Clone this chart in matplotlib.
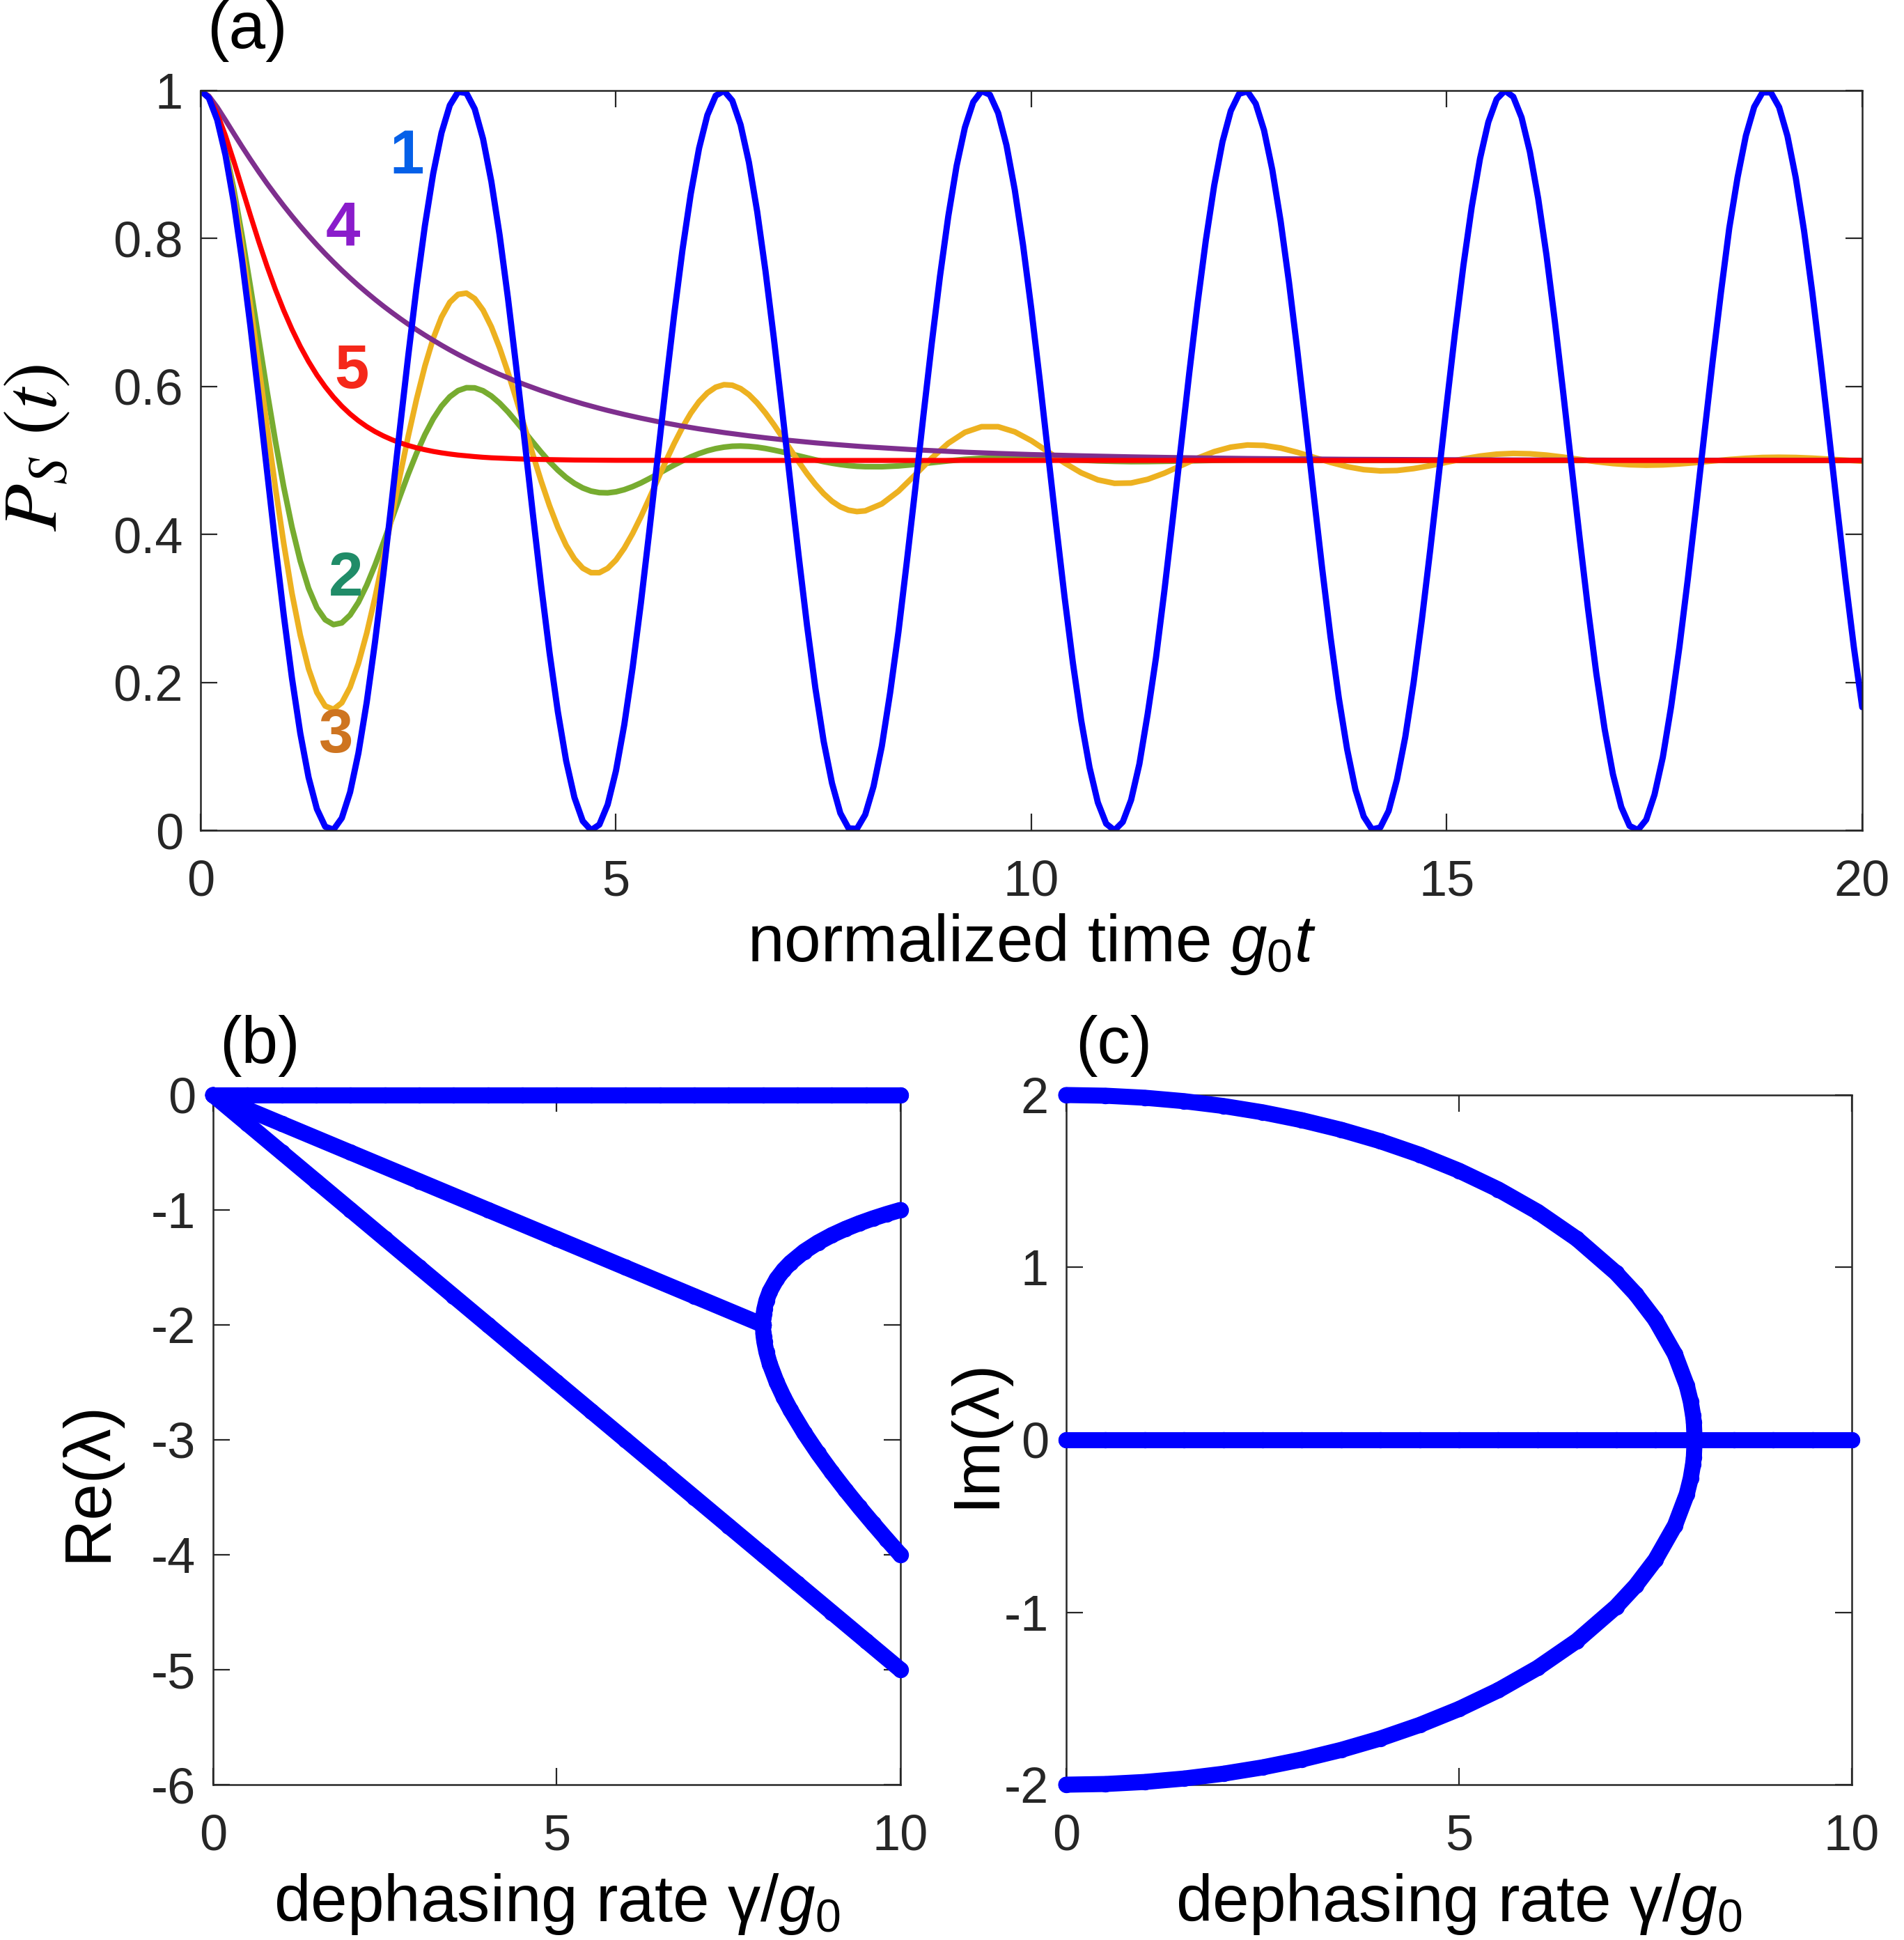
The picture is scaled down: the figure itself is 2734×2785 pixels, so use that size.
import numpy as np
import matplotlib
matplotlib.use('Agg')
import matplotlib.pyplot as plt
from matplotlib.ticker import FuncFormatter

plt.rcParams['font.family'] = ['Liberation Sans', 'DejaVu Sans']
plt.rcParams['axes.unicode_minus'] = False
plt.rcParams['mathtext.fontset'] = 'custom'
plt.rcParams['mathtext.rm'] = 'Liberation Sans'
plt.rcParams['mathtext.it'] = 'Liberation Sans:italic'
plt.rcParams['mathtext.bf'] = 'Liberation Sans:bold'

# ── (a) P_S(t) curves ──────────────────────────────────────────
t_fine = np.linspace(0, 20, 201)                      # every 0.1
t_mix = np.concatenate([np.linspace(0, 8, 81),        # every 0.1 up to 8
                        np.linspace(8.2, 20, 60)])    # then every 0.2

p_curve1 = [
    1.0000, 0.9900, 0.9605, 0.9127, 0.8484, 0.7702, 0.6812, 0.5850, 0.4854, 0.3864,
    0.2919, 0.2058, 0.1313, 0.0716, 0.0289, 0.0050, 0.0009, 0.0166, 0.0516, 0.1045,
    0.1732, 0.2549, 0.3463, 0.4439, 0.5438, 0.6418, 0.7343, 0.8173, 0.8878, 0.9428,
    0.9801, 0.9983, 0.9966, 0.9751, 0.9347, 0.8770, 0.8042, 0.7193, 0.6257, 0.5270,
    0.4273, 0.3304, 0.2404, 0.1606, 0.0941, 0.0444, 0.0126, 0.0002, 0.0077, 0.0348,
    0.0805, 0.1428, 0.2195, 0.3073, 0.4031, 0.5022, 0.6015, 0.6968, 0.7843, 0.8602,
    0.9219, 0.9668, 0.9931, 0.9997, 0.9864, 0.9537, 0.9030, 0.8361, 0.7557, 0.6654,
    0.5684, 0.4686, 0.3701, 0.2766, 0.1922, 0.1202, 0.0638, 0.0233, 0.0027, 0.0021,
    0.0212, 0.0593, 0.1138, 0.1861, 0.2682, 0.3624, 0.4597, 0.5604, 0.6576, 0.7490,
    0.8302, 0.8982, 0.9502, 0.9845, 0.9994, 0.9944, 0.9696, 0.9262, 0.8657, 0.7908,
    0.7040, 0.6093, 0.5102, 0.4107, 0.3147, 0.2261, 0.1483, 0.0850, 0.0376, 0.0090,
    0.0000, 0.0113, 0.0410, 0.0898, 0.1576, 0.2336, 0.3230, 0.4194, 0.5190, 0.6179,
    0.7121, 0.7978, 0.8715, 0.9307, 0.9725, 0.9956, 0.9989, 0.9823, 0.9464, 0.8928,
    0.8235, 0.7413, 0.6495, 0.5517, 0.4518, 0.3539, 0.2618, 0.1792, 0.1098, 0.0551,
    0.0187, 0.0013, 0.0039, 0.0263, 0.0686, 0.1260, 0.1994, 0.2847, 0.3787, 0.4770,
    0.5771, 0.6738, 0.7636, 0.8426, 0.9081, 0.9574, 0.9884, 0.9999, 0.9916, 0.9636,
    0.9171, 0.8541, 0.7773, 0.6886, 0.5928, 0.4934, 0.3942, 0.2992, 0.2117, 0.1367,
    0.0757, 0.0316, 0.0060, 0.0004, 0.0143, 0.0482, 0.0987, 0.1672, 0.2479, 0.3388,
    0.4360, 0.5358, 0.6342, 0.7272, 0.8141, 0.8827, 0.9391, 0.9779, 0.9975, 0.9975,
    0.9775, 0.9386, 0.8822, 0.8105, 0.7264, 0.6333, 0.5349, 0.4351, 0.3379, 0.2472,
    0.1665,
]

p_curve2 = [
    1.0000, 0.9904, 0.9630, 0.9207, 0.8665, 0.8035, 0.7349, 0.6641, 0.5938, 0.5265,
    0.4647, 0.4101, 0.3640, 0.3273, 0.3008, 0.2847, 0.2781, 0.2804, 0.2910, 0.3083,
    0.3314, 0.3586, 0.3887, 0.4200, 0.4514, 0.4817, 0.5097, 0.5348, 0.5562, 0.5734,
    0.5861, 0.5944, 0.5983, 0.5981, 0.5942, 0.5871, 0.5774, 0.5657, 0.5525, 0.5387,
    0.5247, 0.5111, 0.4983, 0.4869, 0.4770, 0.4690, 0.4628, 0.4586, 0.4565, 0.4562,
    0.4576, 0.4605, 0.4646, 0.4696, 0.4754, 0.4814, 0.4877, 0.4938, 0.4995, 0.5048,
    0.5093, 0.5131, 0.5160, 0.5180, 0.5192, 0.5195, 0.5190, 0.5179, 0.5162, 0.5140,
    0.5116, 0.5089, 0.5061, 0.5034, 0.5008, 0.4984, 0.4963, 0.4945, 0.4931, 0.4921,
    0.4916,
    0.4915, 0.4926, 0.4946, 0.4970, 0.4994, 0.5015, 0.5029, 0.5037, 0.5038,
    0.5034, 0.5025, 0.5015, 0.5004, 0.4994, 0.4988, 0.4984, 0.4985, 0.4988, 0.4992,
    0.4997, 0.5001, 0.5004, 0.5006, 0.5006, 0.5005, 0.5004, 0.5002, 0.5000, 0.5000,
] + [0.5000] * 31

p_curve3 = [
    1.0000, 0.9902, 0.9618, 0.9169, 0.8579, 0.7879, 0.7101, 0.6278, 0.5448, 0.4639,
    0.3886, 0.3205, 0.2638, 0.2184, 0.1864, 0.1681, 0.1636, 0.1724, 0.1935, 0.2255,
    0.2666, 0.3148, 0.3680, 0.4233, 0.4792, 0.5331, 0.5830, 0.6275, 0.6648, 0.6937,
    0.7138, 0.7245, 0.7261, 0.7187, 0.7032, 0.6806, 0.6520, 0.6189, 0.5828, 0.5453,
    0.5078, 0.4719, 0.4388, 0.4096, 0.3852, 0.3669, 0.3544, 0.3483, 0.3483, 0.3542,
    0.3654, 0.3814, 0.4012, 0.4239, 0.4485, 0.4738, 0.4989, 0.5228, 0.5447, 0.5638,
    0.5795, 0.5913, 0.5990, 0.6024, 0.6017, 0.5971, 0.5890, 0.5777, 0.5640, 0.5485,
    0.5318, 0.5148, 0.4980, 0.4820, 0.4676, 0.4551, 0.4449, 0.4374, 0.4328, 0.4309,
    0.4319,
    0.4413, 0.4584, 0.4804, 0.5032, 0.5233, 0.5380, 0.5456, 0.5456, 0.5387,
    0.5267, 0.5118, 0.4966, 0.4833, 0.4738, 0.4691, 0.4695, 0.4745, 0.4828, 0.4929,
    0.5031, 0.5119, 0.5180, 0.5209, 0.5203, 0.5168, 0.5110, 0.5042, 0.4974, 0.4916,
    0.4876, 0.4859, 0.4864, 0.4890, 0.4929, 0.4976, 0.5021, 0.5059, 0.5085, 0.5095,
    0.5090, 0.5072, 0.5045, 0.5014, 0.4983, 0.4958, 0.4942, 0.4936, 0.4940, 0.4953,
    0.4971, 0.4993, 0.5013, 0.5029, 0.5040, 0.5043, 0.5040, 0.5031, 0.5018, 0.5004,
    0.4990,
]

p_curve4 = [
    1.0000, 0.9927, 0.9776, 0.9600, 0.9419, 0.9241, 0.9069, 0.8903, 0.8743, 0.8591,
    0.8444, 0.8303, 0.8168, 0.8039, 0.7914, 0.7795, 0.7681, 0.7571, 0.7466, 0.7365,
    0.7269, 0.7176, 0.7087, 0.7002, 0.6920, 0.6841, 0.6766, 0.6694, 0.6625, 0.6558,
    0.6494, 0.6433, 0.6375, 0.6319, 0.6265, 0.6213, 0.6163, 0.6116, 0.6070, 0.6026,
    0.5985, 0.5944, 0.5906, 0.5869, 0.5833, 0.5799, 0.5766, 0.5735, 0.5705, 0.5676,
    0.5649, 0.5622, 0.5597, 0.5572, 0.5549, 0.5526, 0.5505, 0.5484, 0.5464, 0.5445,
    0.5427, 0.5410, 0.5393, 0.5377, 0.5362, 0.5347, 0.5333, 0.5319, 0.5306, 0.5293,
    0.5281, 0.5270, 0.5259, 0.5248, 0.5238, 0.5228, 0.5219, 0.5210, 0.5202, 0.5193,
    0.5185,
    0.5171, 0.5157, 0.5144, 0.5133, 0.5122, 0.5112, 0.5103, 0.5095, 0.5087,
    0.5080, 0.5074, 0.5068, 0.5063, 0.5058, 0.5053, 0.5049, 0.5045, 0.5041, 0.5038,
    0.5035, 0.5032, 0.5030, 0.5027, 0.5025, 0.5023, 0.5021, 0.5019, 0.5018, 0.5016,
    0.5015, 0.5014, 0.5013, 0.5012, 0.5011, 0.5010, 0.5009, 0.5008, 0.5008, 0.5007,
    0.5007, 0.5006, 0.5006, 0.5005, 0.5005, 0.5004, 0.5004, 0.5004, 0.5003, 0.5003,
    0.5003, 0.5003, 0.5002, 0.5002, 0.5002, 0.5002, 0.5002, 0.5001, 0.5001, 0.5001,
    0.5001,
]

p_curve5 = [
    1.0000, 0.9912, 0.9692, 0.9390, 0.9044, 0.8679, 0.8313, 0.7959, 0.7625, 0.7314,
    0.7030, 0.6773, 0.6542, 0.6337, 0.6155, 0.5996, 0.5856, 0.5734, 0.5628, 0.5537,
    0.5458, 0.5390, 0.5332, 0.5282, 0.5239, 0.5202, 0.5171, 0.5145, 0.5122, 0.5103,
    0.5087, 0.5073, 0.5062, 0.5052, 0.5043, 0.5036, 0.5031, 0.5026, 0.5022, 0.5018,
    0.5015, 0.5013, 0.5011, 0.5009, 0.5007, 0.5006, 0.5005, 0.5004, 0.5004, 0.5003,
    0.5002, 0.5002, 0.5002, 0.5001, 0.5001, 0.5001, 0.5001, 0.5001, 0.5000,
] + [0.5000] * 82

# curve tags: (text, t, P, colour)
curve_tags = [('1', 2.48, 0.910, '#0560E8'),
              ('4', 1.71, 0.812, '#8A1CCB'),
              ('5', 1.82, 0.620, '#F5281A'),
              ('2', 1.75, 0.339, '#208C68'),
              ('3', 1.62, 0.127, '#CE7420')]

# ── (b) Re(lambda) and (c) Im(lambda) branches ─────────────────
gam_lin = [0, 0.5, 1, 1.5, 2, 2.5, 3, 3.5, 4, 4.5, 5, 5.5, 6, 6.5, 7, 7.5, 8, 8.5, 9, 9.5, 10]
re_zero = [0.0] * 21
re_half = [0, -0.25, -0.5, -0.75, -1, -1.25, -1.5, -1.75, -2, -2.25, -2.5,
           -2.75, -3, -3.25, -3.5, -3.75, -4, -4.25, -4.5, -4.75, -5]

gam_pair = [0, 1, 2, 3, 4, 5, 6, 7, 8]
re_pair = [0, -0.25, -0.5, -0.75, -1, -1.25, -1.5, -1.75, -2]

gam_split = [8, 8.005, 8.01, 8.02, 8.05, 8.1, 8.2, 8.3, 8.4, 8.6, 8.8,
             9.0, 9.2, 9.4, 9.6, 9.8, 10]
re_upper = [-2.0, -1.9305, -1.9025, -1.8635, -1.7885, -1.7078, -1.6000, -1.5222,
            -1.4597, -1.3610, -1.2835, -1.2192, -1.1642, -1.1161, -1.0734, -1.0349, -1.0]
re_lower = [-2.0, -2.0720, -2.1025, -2.1465, -2.2365, -2.3422, -2.5000, -2.6278,
            -2.7403, -2.9390, -3.1165, -3.2808, -3.4358, -3.5839, -3.7266, -3.8651, -4.0]

gam_im = [0, 0.5, 1, 1.5, 2, 2.5, 3, 3.5, 4, 4.5, 5, 5.5, 6, 6.5, 7,
          7.25, 7.5, 7.75, 7.9, 7.95, 7.98, 7.99, 8]
im_upper = [2.0, 1.9961, 1.9843, 1.9645, 1.9365, 1.8998, 1.8540, 1.7984, 1.7321,
            1.6536, 1.5612, 1.4524, 1.3229, 1.1659, 0.9682, 0.8455, 0.6960, 0.4961,
            0.3152, 0.2233, 0.1413, 0.1000, 0.0]
im_lower = [-v for v in im_upper]
im_zero = [0.0] * 21

# ── style ──────────────────────────────────────────────────────
DPI = 200
AX_C = '#262626'
TICK_FS = 26
LAB_FS = 34
BAND_LW = 8.3
BLUE = '#0000FF'

fmt = FuncFormatter(lambda v, _: f'{v:g}')


def style_ax(ax):
    ax.tick_params(direction='in', length=8.5, width=0.8, colors=AX_C,
                   labelsize=TICK_FS, top=True, right=True)
    ax.tick_params(axis='x', pad=15)
    ax.tick_params(axis='y', pad=9)
    for s in ax.spines.values():
        s.set_color(AX_C)
        s.set_linewidth(0.9)
    ax.xaxis.set_major_formatter(fmt)
    ax.yaxis.set_major_formatter(fmt)


def band(ax, x, y):
    ax.plot(x, y, color=BLUE, lw=BAND_LW, solid_capstyle='round',
            solid_joinstyle='round', clip_on=False, zorder=3)
    ax.plot(x, y, ls='none', marker='o', ms=7.4, mfc='none', mec=BLUE,
            mew=1.0, clip_on=False, zorder=3)


fig = plt.figure(figsize=(2734 / DPI, 2785 / DPI), dpi=DPI)

# ── (a) ────────────────────────────────────────────────────────
ax_a = fig.add_axes([0.10534, 0.57199, 0.87271, 0.38133])
style_ax(ax_a)
line_kw = dict(solid_joinstyle='round', solid_capstyle='round')
ax_a.plot(t_mix, p_curve2, color='#77AC30', lw=2.9, **line_kw)
ax_a.plot(t_mix, p_curve3, color='#EDB120', lw=2.9, **line_kw)
ax_a.plot(t_mix, p_curve4, color='#7E2F8E', lw=2.6, **line_kw)
ax_a.plot(t_mix, p_curve5, color='#FF0000', lw=2.6, **line_kw)
ax_a.plot(t_fine, p_curve1, color=BLUE, lw=3.2, **line_kw)
ax_a.set_xlim(0, 20)
ax_a.set_ylim(0, 1)
ax_a.set_xticks([0, 5, 10, 15, 20])
ax_a.set_yticks([0, 0.2, 0.4, 0.6, 0.8, 1])
for txt, tx, ty, c in curve_tags:
    ax_a.text(tx, ty, txt, color=c, fontsize=32, fontweight='bold',
              ha='center', va='center')
ax_a.set_xlabel('normalized time $g_0t$', fontsize=LAB_FS, labelpad=3)
ax_a.set_ylabel(r'$P_S\ (t)$', fontsize=40, math_fontfamily='stix')
ax_a.yaxis.set_label_coords(-0.077, 0.517)

# ── (b) ────────────────────────────────────────────────────────
ax_b = fig.add_axes([0.11192, 0.08007, 0.36101, 0.35548])
style_ax(ax_b)
band(ax_b, gam_lin, re_zero)
band(ax_b, gam_lin, re_half)
band(ax_b, gam_pair, re_pair)
band(ax_b, gam_split, re_upper)
band(ax_b, gam_split, re_lower)
ax_b.set_xlim(0, 10)
ax_b.set_ylim(-6, 0)
ax_b.set_xticks([0, 5, 10])
ax_b.set_yticks([-6, -5, -4, -3, -2, -1, 0])
ax_b.set_xlabel('dephasing rate γ/$g_0$', fontsize=LAB_FS, labelpad=6)
ax_b.set_ylabel('Re(λ)', fontsize=LAB_FS)
ax_b.yaxis.set_label_coords(-0.135, 0.44)

# ── (c) ────────────────────────────────────────────────────────
ax_c = fig.add_axes([0.55998, 0.08007, 0.41258, 0.35548])
style_ax(ax_c)
band(ax_c, gam_lin, im_zero)
band(ax_c, gam_im, im_upper)
band(ax_c, gam_im, im_lower)
ax_c.set_xlim(0, 10)
ax_c.set_ylim(-2, 2)
ax_c.set_xticks([0, 5, 10])
ax_c.set_yticks([-2, -1, 0, 1, 2])
ax_c.set_xlabel('dephasing rate γ/$g_0$', fontsize=LAB_FS, labelpad=6)
ax_c.set_ylabel('Im(λ)', fontsize=LAB_FS)
ax_c.yaxis.set_label_coords(-0.074, 0.51)

# ── panel tags ─────────────────────────────────────────────────
fig.text(0.130, 0.984, '(a)', fontsize=LAB_FS, ha='center', va='center')
fig.text(0.1365, 0.461, '(b)', fontsize=LAB_FS, ha='center', va='center')
fig.text(0.585, 0.461, '(c)', fontsize=LAB_FS, ha='center', va='center')

fig.savefig('out.png', dpi=DPI, facecolor='white')
